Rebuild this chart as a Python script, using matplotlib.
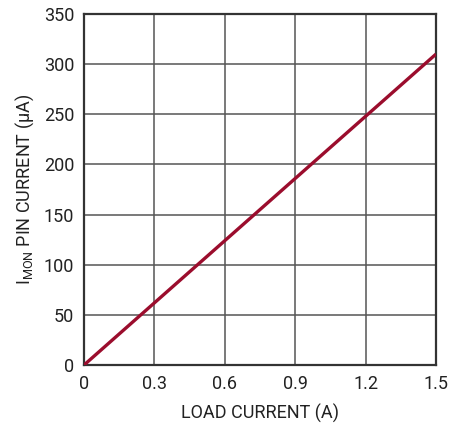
import numpy as np
import matplotlib.pyplot as plt

# data
load_current = [0.0, 1.5]          # A
imon_current = [0.0, 310.0]        # uA
x_ticks = [0, 0.3, 0.6, 0.9, 1.2, 1.5]
x_ticklabels = ['0', '0.3', '0.6', '0.9', '1.2', '1.5']
y_ticks = [0, 50, 100, 150, 200, 250, 300, 350]

plt.rcParams['font.family'] = ['Roboto', 'DejaVu Sans']
plt.rcParams['mathtext.fontset'] = 'custom'
plt.rcParams['mathtext.rm'] = 'Roboto'

fig = plt.figure(figsize=(4.65, 4.24), dpi=100)
ax = fig.add_axes([0.1806, 0.139, 0.757, 0.828])

ax.plot(load_current, imon_current, color='#9b0d2d', linewidth=2.4,
        solid_capstyle='butt', zorder=3)

ax.set_xlim(0, 1.5)
ax.set_ylim(0, 350)
ax.set_xticks(x_ticks)
ax.set_xticklabels(x_ticklabels)
ax.set_yticks(y_ticks)
ax.grid(True, color='#555555', linewidth=1.1)
ax.tick_params(length=0, labelsize=13, colors='#222222', pad=7)
for sp in ax.spines.values():
    sp.set_color('#333333')
    sp.set_linewidth(1.6)

ax.set_xlabel('LOAD CURRENT (A)', fontsize=13, color='#222222', labelpad=8)
ax.set_ylabel(r'I$_{\mathregular{MON}}$ PIN CURRENT (µA)', fontsize=13,
              color='#222222', labelpad=6)

fig.savefig('out.png', dpi=100)
